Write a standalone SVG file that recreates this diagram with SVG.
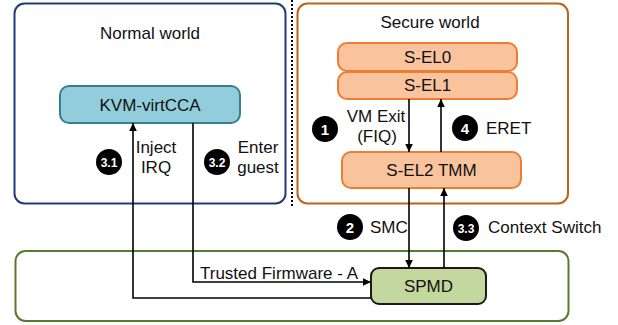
<svg xmlns="http://www.w3.org/2000/svg" width="618" height="325" viewBox="0 0 618 325">
<defs>
<marker id="ah" markerWidth="10" markerHeight="10" refX="9" refY="5" orient="auto" markerUnits="userSpaceOnUse">
<path d="M1,1.2 L9,5 L1,8.8 z" fill="#000"/>
</marker>
<style>
text{font-family:"Liberation Sans",Arial,sans-serif;font-size:17px;fill:#111}
.c{text-anchor:middle}
.num{font-weight:bold;fill:#fff;text-anchor:middle;font-size:15px}
.num.s{font-size:12px}
.badge{fill:#000}
.el{fill:#f8c39d;stroke:#ed7d31;stroke-width:2}
.conn{fill:none;stroke:#000;stroke-width:1.6;marker-end:url(#ah)}
</style>
</defs>
<rect width="618" height="325" fill="#fff"/>
<line x1="292" y1="0" x2="292" y2="206" stroke="#000" stroke-width="2" stroke-dasharray="2 2"/>
<g id="normal-world">
<rect x="14.5" y="3.5" width="271" height="200" rx="10" fill="none" stroke="#203c78" stroke-width="2"/>
<text class="c" x="150" y="39">Normal world</text>
</g>
<g id="secure-world">
<rect x="297.5" y="3.5" width="270.5" height="200" rx="10" fill="none" stroke="#c0601a" stroke-width="2"/>
<text class="c" x="430" y="28">Secure world</text>
</g>
<g id="trusted-firmware">
<rect x="15.5" y="251" width="553" height="70" rx="10" fill="none" stroke="#5a7a32" stroke-width="2"/>
<text x="200" y="279">Trusted Firmware - A</text>
</g>
<g id="kvm">
<rect x="60" y="86" width="180" height="37" rx="9" fill="#92cddc" stroke="#3a7d8e" stroke-width="2"/>
<text class="c" x="150" y="111">KVM-virtCCA</text>
</g>
<g id="sel0">
<rect class="el" x="338" y="43" width="179" height="28" rx="9"/>
<text class="c" x="427.5" y="63">S-EL0</text>
</g>
<g id="sel1">
<rect class="el" x="338" y="72" width="179" height="27" rx="9"/>
<text class="c" x="427.5" y="90.5">S-EL1</text>
</g>
<g id="sel2">
<rect class="el" x="342" y="152" width="179" height="36" rx="9"/>
<text class="c" x="431.5" y="176">S-EL2 TMM</text>
</g>
<g id="spmd">
<rect x="371" y="268" width="115" height="36" rx="8" fill="#c4d79e" stroke="#1a1a1a" stroke-width="2"/>
<text class="c" x="428.5" y="292">SPMD</text>
</g>
<g id="connectors">
<path class="conn" d="M409,99 V152"/>
<path class="conn" d="M441,152 V99"/>
<path class="conn" d="M409,188 V268"/>
<path class="conn" d="M444,268 V188"/>
<path class="conn" d="M193,123 V282 H371"/>
<path class="conn" d="M371,298 H133 V123"/>
</g>
<g id="labels">
<circle class="badge" cx="325" cy="129" r="13"/>
<text class="num" x="325" y="134.5">1</text>
<text class="c" x="376" y="122">VM Exit</text>
<text class="c" x="377" y="141.5">(FIQ)</text>
<circle class="badge" cx="465" cy="128" r="13"/>
<text class="num" x="465" y="133.5">4</text>
<text x="486" y="133.5">ERET</text>
<circle class="badge" cx="350" cy="227" r="13"/>
<text class="num" x="350" y="232.5">2</text>
<text x="370" y="233">SMC</text>
<circle class="badge" cx="466" cy="228" r="13"/>
<text class="num s" x="466" y="232.5">3.3</text>
<text x="488" y="233">Context Switch</text>
<circle class="badge" cx="109" cy="162" r="13"/>
<text class="num s" x="109" y="166.5">3.1</text>
<text class="c" x="156" y="153">Inject</text>
<text class="c" x="156" y="173">IRQ</text>
<circle class="badge" cx="217" cy="162" r="13"/>
<text class="num s" x="217" y="166.5">3.2</text>
<text class="c" x="258" y="153">Enter</text>
<text class="c" x="258" y="173">guest</text>
</g>
</svg>
